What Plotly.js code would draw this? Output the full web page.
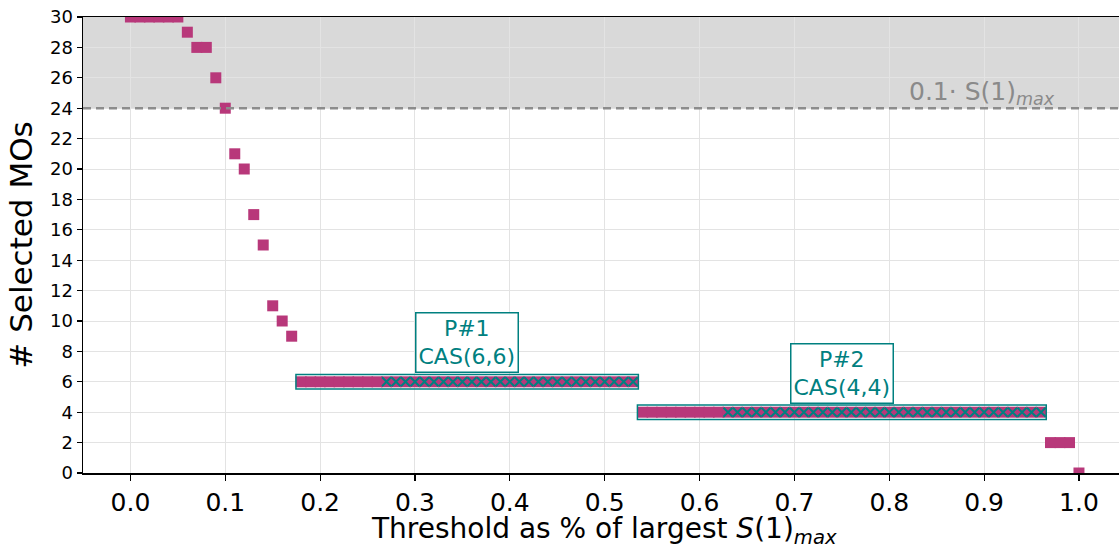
<!DOCTYPE html>
<html>
<head>
<meta charset="utf-8">
<script src="https://cdn.plot.ly/plotly-3.0.1.min.js"></script>
<style>html,body{margin:0;padding:0;background:#fff;}#chart{width:1119px;height:546px;}</style>
</head>
<body>
<div id="chart"></div>
<script>
// Thresholds (fraction of largest S(1)max) and number of selected MOs
const thresholds = [0.00,0.01,0.02,0.03,0.04,0.05,0.06,0.07,0.08,0.09,
  0.10,0.11,0.12,0.13,0.14,0.15,0.16,0.17,0.18,0.19,
  0.20,0.21,0.22,0.23,0.24,0.25,0.26,0.27,0.28,0.29,
  0.30,0.31,0.32,0.33,0.34,0.35,0.36,0.37,0.38,0.39,
  0.40,0.41,0.42,0.43,0.44,0.45,0.46,0.47,0.48,0.49,
  0.50,0.51,0.52,0.53,0.54,0.55,0.56,0.57,0.58,0.59,
  0.60,0.61,0.62,0.63,0.64,0.65,0.66,0.67,0.68,0.69,
  0.70,0.71,0.72,0.73,0.74,0.75,0.76,0.77,0.78,0.79,
  0.80,0.81,0.82,0.83,0.84,0.85,0.86,0.87,0.88,0.89,
  0.90,0.91,0.92,0.93,0.94,0.95,0.96,0.97,0.98,0.99,1.00];
const selectedMOs = [30,30,30,30,30,30,29,28,28,26,
  24,21,20,17,15,11,10,9,6,6,
  6,6,6,6,6,6,6,6,6,6,
  6,6,6,6,6,6,6,6,6,6,
  6,6,6,6,6,6,6,6,6,6,
  6,6,6,6,4,4,4,4,4,4,
  4,4,4,4,4,4,4,4,4,4,
  4,4,4,4,4,4,4,4,4,4,
  4,4,4,4,4,4,4,4,4,4,
  4,4,4,4,4,4,4,2,2,2,0];

// Points marked with an x (stable plateau region)
const markedX = [0.27,0.28,0.29,0.30,0.31,0.32,0.33,0.34,0.35,0.36,0.37,0.38,0.39,0.40,
  0.41,0.42,0.43,0.44,0.45,0.46,0.47,0.48,0.49,0.50,0.51,0.52,0.53,
  0.63,0.64,0.65,0.66,0.67,0.68,0.69,0.70,0.71,0.72,0.73,0.74,0.75,0.76,0.77,0.78,0.79,
  0.80,0.81,0.82,0.83,0.84,0.85,0.86,0.87,0.88,0.89,0.90,0.91,0.92,0.93,0.94,0.95,0.96];
const markedY = [6,6,6,6,6,6,6,6,6,6,6,6,6,6,6,6,6,6,6,6,6,6,6,6,6,6,6,
  4,4,4,4,4,4,4,4,4,4,4,4,4,4,4,4,4,4,4,4,4,4,4,4,4,4,4,4,4,4,4,4,4,4,4,4,4];

// Plateaus
const plateauStart = [0.18, 0.54];
const plateauEnd = [0.53, 0.96];
const plateauY = [6, 4];
const plateauLabels = ['P#1<br>CAS(6,6)', 'P#2<br>CAS(4,4)'];

// Cutoff line
const cutoffY = 24;
const cutoffLabel = '0.1· S(1)<sub><i>max</i></sub>';

const xTicks = [0.0,0.1,0.2,0.3,0.4,0.5,0.6,0.7,0.8,0.9,1.0];
const xTickText = ['0.0','0.1','0.2','0.3','0.4','0.5','0.6','0.7','0.8','0.9','1.0'];
const yTicks = [0,2,4,6,8,10,12,14,16,18,20,22,24,26,28,30];
const xTitle = 'Threshold as % of largest <i>S</i>(1)<sub><i>max</i></sub>';

const pink = '#b8387a';
const teal = '#008080';

const traces = [
  {x: thresholds, y: selectedMOs, type: 'scatter', mode: 'markers',
   marker: {symbol: 'square', size: 11, color: pink, line: {width: 0}},
   hoverinfo: 'x+y'},
  {x: markedX, y: markedY, type: 'scatter', mode: 'markers',
   marker: {symbol: 'x-thin', size: 9, color: teal, line: {color: teal, width: 2}},
   hoverinfo: 'x+y'}
];

const shapes = [
  {type: 'rect', xref: 'paper', yref: 'y', x0: 0, x1: 1, y0: cutoffY, y1: 30,
   fillcolor: '#d9d9d9', line: {width: 0}, layer: 'below'},
  {type: 'line', xref: 'paper', yref: 'y', x0: 0, x1: 1, y0: cutoffY, y1: cutoffY,
   line: {color: '#8c8c8c', width: 2.5, dash: '8px,5px'}}
];
const annotations = [
  {xref: 'x', yref: 'y', x: 0.977, y: cutoffY, xanchor: 'right', yanchor: 'bottom',
   text: cutoffLabel, showarrow: false, yshift: -3,
   font: {family: 'DejaVu Sans', size: 25, color: '#8a8a8a'}},
  {xref: 'paper', yref: 'paper', x: 0.503, y: -0.125, xanchor: 'center', yanchor: 'middle',
   text: xTitle, showarrow: false,
   font: {family: 'DejaVu Sans', size: 28, color: '#000'}}
];
for (let i = 0; i < plateauStart.length; i++) {
  shapes.push({type: 'rect', xref: 'x', yref: 'y',
    x0: plateauStart[i] - 0.0055, x1: plateauEnd[i] + 0.0055,
    y0: plateauY[i] - 0.48, y1: plateauY[i] + 0.48,
    line: {color: teal, width: 1.5}, fillcolor: 'rgba(0,0,0,0)', layer: 'above'});
  annotations.push({xref: 'x', yref: 'y', x: (plateauStart[i] + plateauEnd[i]) / 2,
    y: plateauY[i] + 0.55, xanchor: 'center', yanchor: 'bottom',
    text: plateauLabels[i], showarrow: false, align: 'center',
    bgcolor: '#ffffff', bordercolor: teal, borderwidth: 1.5, borderpad: 2,
    font: {family: 'DejaVu Sans', size: 22, color: teal}});
}

const layout = {
  width: 1119, height: 546,
  margin: {l: 83, r: 0, t: 17, b: 73},
  paper_bgcolor: '#ffffff', plot_bgcolor: '#ffffff',
  showlegend: false,
  font: {family: 'DejaVu Sans', color: '#000'},
  xaxis: {
    range: [-0.05, 1.0422], tickvals: xTicks, ticktext: xTickText,
    ticks: 'outside', ticklen: 6, tickwidth: 1.2, tickcolor: '#000',
    showline: true, linecolor: '#000', linewidth: 1.5, mirror: true,
    showgrid: true, gridcolor: '#e3e3e3', gridwidth: 1, zeroline: false,
    automargin: false,
    tickfont: {family: 'DejaVu Sans', size: 25, color: '#000'}
  },
  yaxis: {
    range: [0, 30], tickvals: yTicks,
    ticks: 'outside', ticklen: 5, tickwidth: 1.2, tickcolor: '#000',
    showline: true, linecolor: '#000', linewidth: 1.5,
    showgrid: true, gridcolor: '#e3e3e3', gridwidth: 1, zeroline: false,
    automargin: false,
    tickfont: {family: 'DejaVu Sans', size: 18, color: '#000'},
    title: {text: '# Selected MOs', standoff: 8,
      font: {family: 'DejaVu Sans', size: 31, color: '#000'}}
  },
  shapes: shapes,
  annotations: annotations
};

Plotly.newPlot('chart', traces, layout, {displayModeBar: false, staticPlot: true});
</script>
</body>
</html>
